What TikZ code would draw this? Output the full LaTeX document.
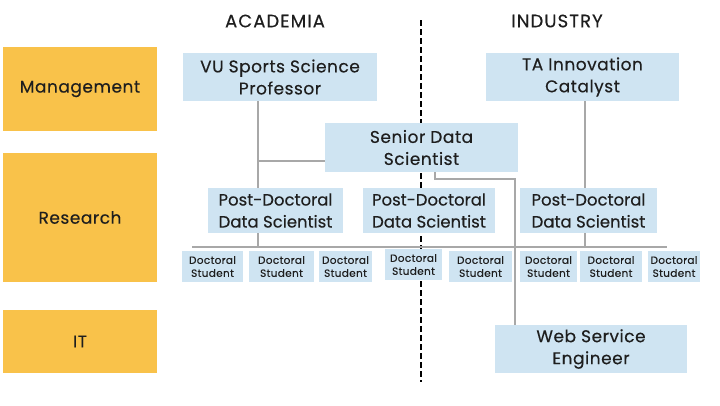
\documentclass[tikz,border=0pt]{standalone}
\usepackage{fontspec}
\setmainfont{Poppins}[LetterSpace=3,FakeBold=0.3]
\newfontfamily\headfont{Poppins}[LetterSpace=6,FakeBold=0.3]
\newfontfamily\tightfont{Poppins}[LetterSpace=0,FakeBold=0.3]
\usetikzlibrary{backgrounds}
\definecolor{orangebox}{HTML}{F9C24A}
\definecolor{bluebox}{HTML}{CFE4F2}
\definecolor{conn}{HTML}{A8A8A8}
\definecolor{txt}{HTML}{1E1E1E}
\begin{document}
\begin{tikzpicture}[x=1pt,y=-1pt,
  every node/.style={inner sep=0pt, outer sep=0pt, text=txt, align=center},
  rolebox/.style={fill=orangebox, font=\fontsize{17}{21}\selectfont},
  bigbox/.style={fill=bluebox, font=\fontsize{17}{22}\selectfont},
  pdbox/.style={fill=bluebox, font=\tightfont\fontsize{16.5}{22}\selectfont, minimum height=45pt},
  docbox/.style={fill=bluebox, font=\fontsize{10.5}{13}\selectfont, minimum height=31pt},
  header/.style={font=\headfont\fontsize{18}{20}\selectfont},
  link/.style={draw=conn, line width=2pt},
  divider/.style={draw=black, line width=2pt, dash pattern=on 6pt off 3pt}]
\useasboundingbox (0,0) rectangle (720,405);
% role column
\node[rolebox, minimum width=154pt, minimum height=84pt] (mgmt) at (80,89) {Management};
\node[rolebox, minimum width=154pt, minimum height=129pt] (res) at (80,217.5) {Research};
\node[rolebox, minimum width=154pt, minimum height=63pt] (it) at (80,341.5) {IT};
% headers
\node[header] (acad) at (275,21) {ACADEMIA};
\node[header] (ind) at (557,21) {INDUSTRY};
% main boxes
\node[bigbox, minimum width=194pt, minimum height=48pt] (vu) at (280,77) {VU Sports Science\\Professor};
\node[bigbox, minimum width=193pt, minimum height=48pt] (ta) at (582.5,77) {TA Innovation\\Catalyst};
\node[bigbox, minimum width=193pt, minimum height=49pt] (sen) at (421.5,147.5) {Senior Data\\Scientist};
\node[pdbox, minimum width=135pt] (pd1) at (275.5,210.5) {Post-Doctoral\\Data Scientist};
\node[pdbox, minimum width=132pt] (pd2) at (429,210.5) {Post-Doctoral\\Data Scientist};
\node[pdbox, minimum width=137pt] (pd3) at (588.5,210.5) {Post-Doctoral\\Data Scientist};
\node[bigbox, minimum width=192pt, minimum height=48pt] (web) at (591,349) {Web Service\\Engineer};
% doctoral students
\node[docbox, minimum width=61pt] (d1) at (212.5,266.5) {Doctoral\\Student};
\node[docbox, minimum width=65pt] (d2) at (281.5,266.5) {Doctoral\\Student};
\node[docbox, minimum width=53pt] (d3) at (345.5,266.5) {Doctoral\\Student};
\node[docbox, minimum width=57pt] (d4) at (413.5,264.5) {Doctoral\\Student};
\node[docbox, minimum width=63pt] (d5) at (480.5,266.5) {Doctoral\\Student};
\node[docbox, minimum width=57pt] (d6) at (548.5,266.5) {Doctoral\\Student};
\node[docbox, minimum width=62pt] (d7) at (611,266.5) {Doctoral\\Student};
\node[docbox, minimum width=52pt] (d8) at (674,266.5) {Doctoral\\Student};
% connector points
\coordinate (busL) at (192,247);
\coordinate (busR) at (667,247);
\coordinate (vuBus) at (258,247);
\coordinate (vuJoin) at (258,161);
\coordinate (taBus) at (585,247);
\coordinate (senBend) at (435,179);
\coordinate (webBend) at (515,179);
\coordinate (divTop) at (421,20);
\coordinate (divBot) at (421,382);
\begin{scope}[on background layer]
  \draw[divider] (divTop) -- (divBot);
  \draw[link] (busL) -- (busR);
  \draw[link] (vu.south -| vuBus) -- (vuBus);
  \draw[link] (vuJoin) -- (vuJoin -| sen.west);
  \draw[link] (ta.south -| taBus) -- (taBus);
  \draw[link] (sen.south -| senBend) -- (senBend) -- (webBend) -- (web.north -| webBend);
\end{scope}
\end{tikzpicture}
\end{document}
